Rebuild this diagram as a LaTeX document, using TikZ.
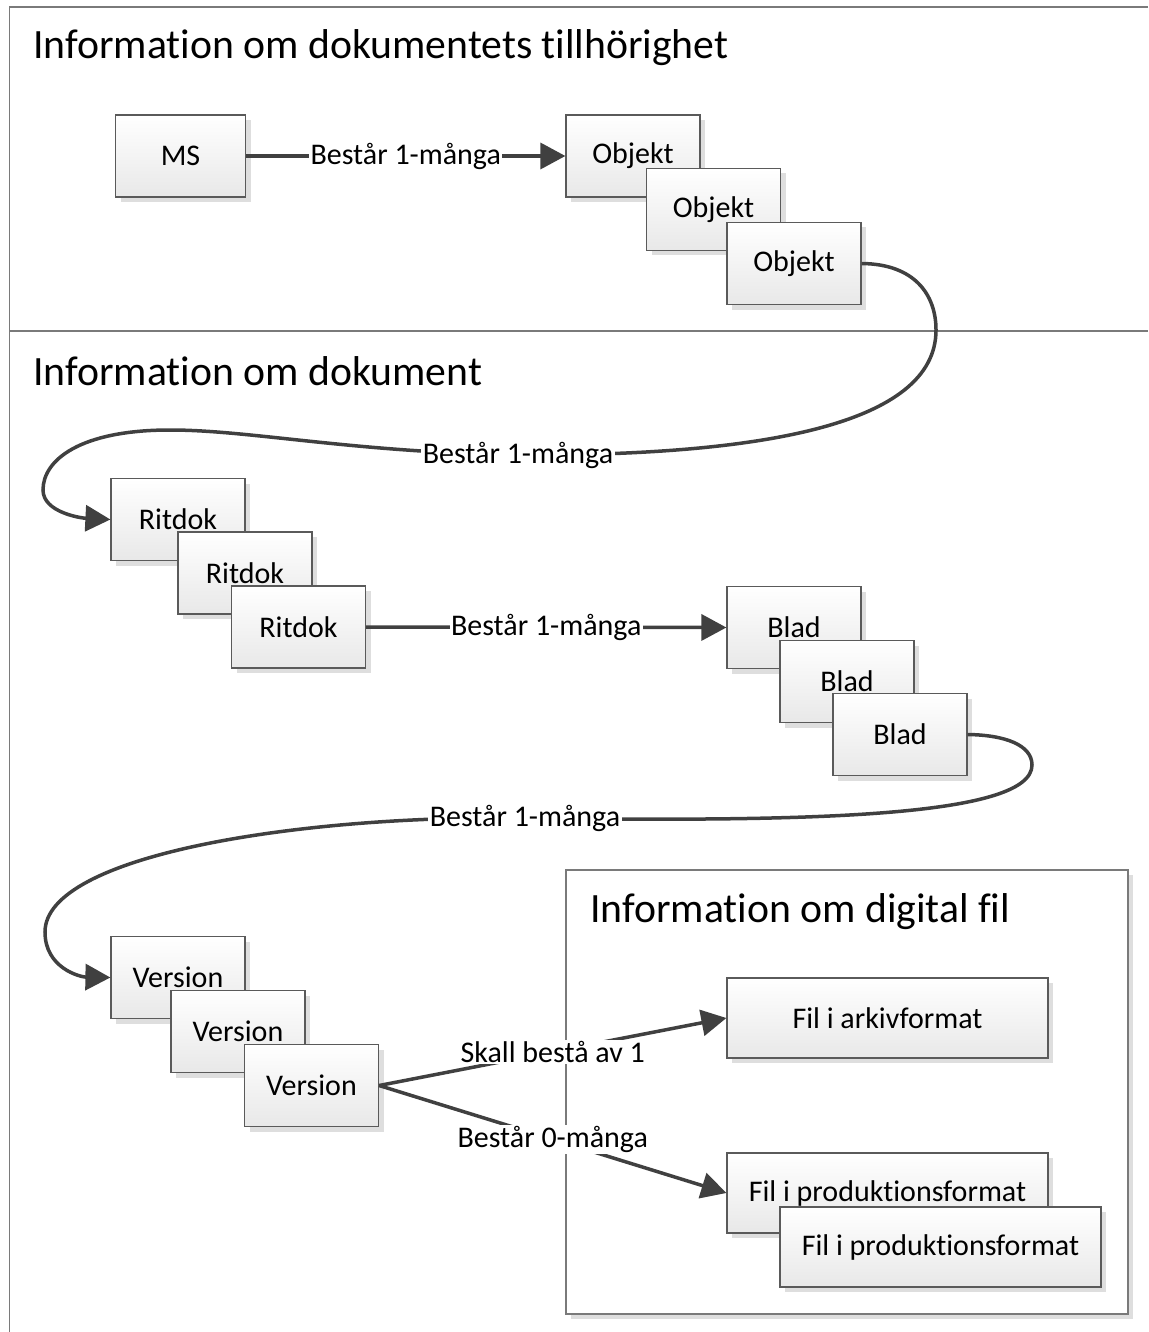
\documentclass[tikz,border=0pt]{standalone}
\usepackage{fontspec}
\setmainfont{Carlito}[RawFeature={-liga;-clig;-dlig;-calt}]
\usetikzlibrary{arrows.meta,shadows}
\definecolor{frame}{HTML}{7A7A7A}
\definecolor{boxline}{HTML}{5A5A5A}
\definecolor{conn}{HTML}{404040}
\definecolor{shad}{HTML}{DEDEDE}
\tikzset{
  ent/.style={draw=boxline, line width=1.2pt, top color=white, bottom color=black!9,
    minimum width=134pt, minimum height=82pt, inner sep=0pt,
    font=\fontsize{30}{36}\selectfont,
    general shadow={fill=shad, shadow xshift=5pt, shadow yshift=-5pt}},
  wide/.style={ent, minimum width=321pt, minimum height=80pt},
  lbl/.style={fill=white, inner sep=1.5pt, font=\fontsize{30}{36}\selectfont},
  ttl/.style={anchor=west, inner sep=0pt, font=\fontsize{41.7}{50}\selectfont},
  conn/.style={draw=conn, line width=3.5pt, -{Triangle[length=25pt,width=26pt]}},
  frm/.style={draw=frame, line width=1.5pt}
}
\begin{document}
\begin{tikzpicture}[x=1pt,y=-1pt]
\useasboundingbox (0,0) rectangle (1148,1332);
% frames
\draw[frm] (1148,7) -- (9.5,7) -- (9.5,1332);
\draw[frm] (9.5,331) -- (1148,331);
\node[ttl] (t1) at (33,48) {Information om dokumentets tillhörighet};
\node[ttl] (t2) at (33,371) {Information om dokument};
% digital file container
\node[draw=frame, line width=1.5pt, fill=white, minimum width=562pt, minimum height=444pt,
  general shadow={fill=shad, shadow xshift=5pt, shadow yshift=-5pt}] (dig) at (847,1092) {};
\node[ttl] (t3) at (590,912) {Information om digital fil};
% entities
\node[ent, minimum width=130pt] (ms) at (180.5,156) {MS};
\node[ent] (obj1) at (633,156) {Objekt};
\node[ent] (obj2) at (713.5,209.5) {Objekt};
\node[ent] (obj3) at (794,263.5) {Objekt};
\node[ent] (rit1) at (178,519.5) {Ritdok};
\node[ent] (rit2) at (245,573) {Ritdok};
\node[ent] (rit3) at (298.5,627) {Ritdok};
\node[ent] (blad1) at (794,627.5) {Blad};
\node[ent] (blad2) at (847,681.5) {Blad};
\node[ent] (blad3) at (900,734.5) {Blad};
\node[ent] (ver1) at (178,977.5) {Version};
\node[ent] (ver2) at (238,1031.5) {Version};
\node[ent] (ver3) at (311.5,1085.5) {Version};
\node[wide] (ark) at (887.5,1018) {Fil i arkivformat};
\node[wide] (prod1) at (887.5,1193) {Fil i produktionsformat};
\node[wide] (prod2) at (940.5,1247) {Fil i produktionsformat};
% connectors
\draw[conn] (ms.east) -- node[lbl] {Består 1-många} (obj1.west);
\draw[conn] (rit3.east) -- node[lbl] {Består 1-många} (blad1.west);
\draw[conn] (ver3.east) -- node[lbl] {Skall bestå av 1} (ark.west);
\draw[conn] (ver3.east) -- node[lbl] {Består 0-många} (prod1.west);
\draw[conn] (obj3.east) .. controls (915,264) and (936,295) .. (936,330)
  .. controls (936,425) and (760,456) .. (518,455) node[lbl] {Består 1-många}
  .. controls (350,452) and (250,430) .. (170,430)
  .. controls (80,430) and (43,460) .. (43,490)
  .. controls (43,512) and (80,518) .. (rit1.west);
\draw[conn] (blad3.east) .. controls (1005,735) and (1032,745) .. (1032,765)
  .. controls (1032,818) and (800,822) .. (525,818) node[lbl] {Består 1-många}
  .. controls (300,815) and (45,855) .. (45,932)
  .. controls (45,968) and (80,977) .. (ver1.west);
\end{tikzpicture}
\end{document}
